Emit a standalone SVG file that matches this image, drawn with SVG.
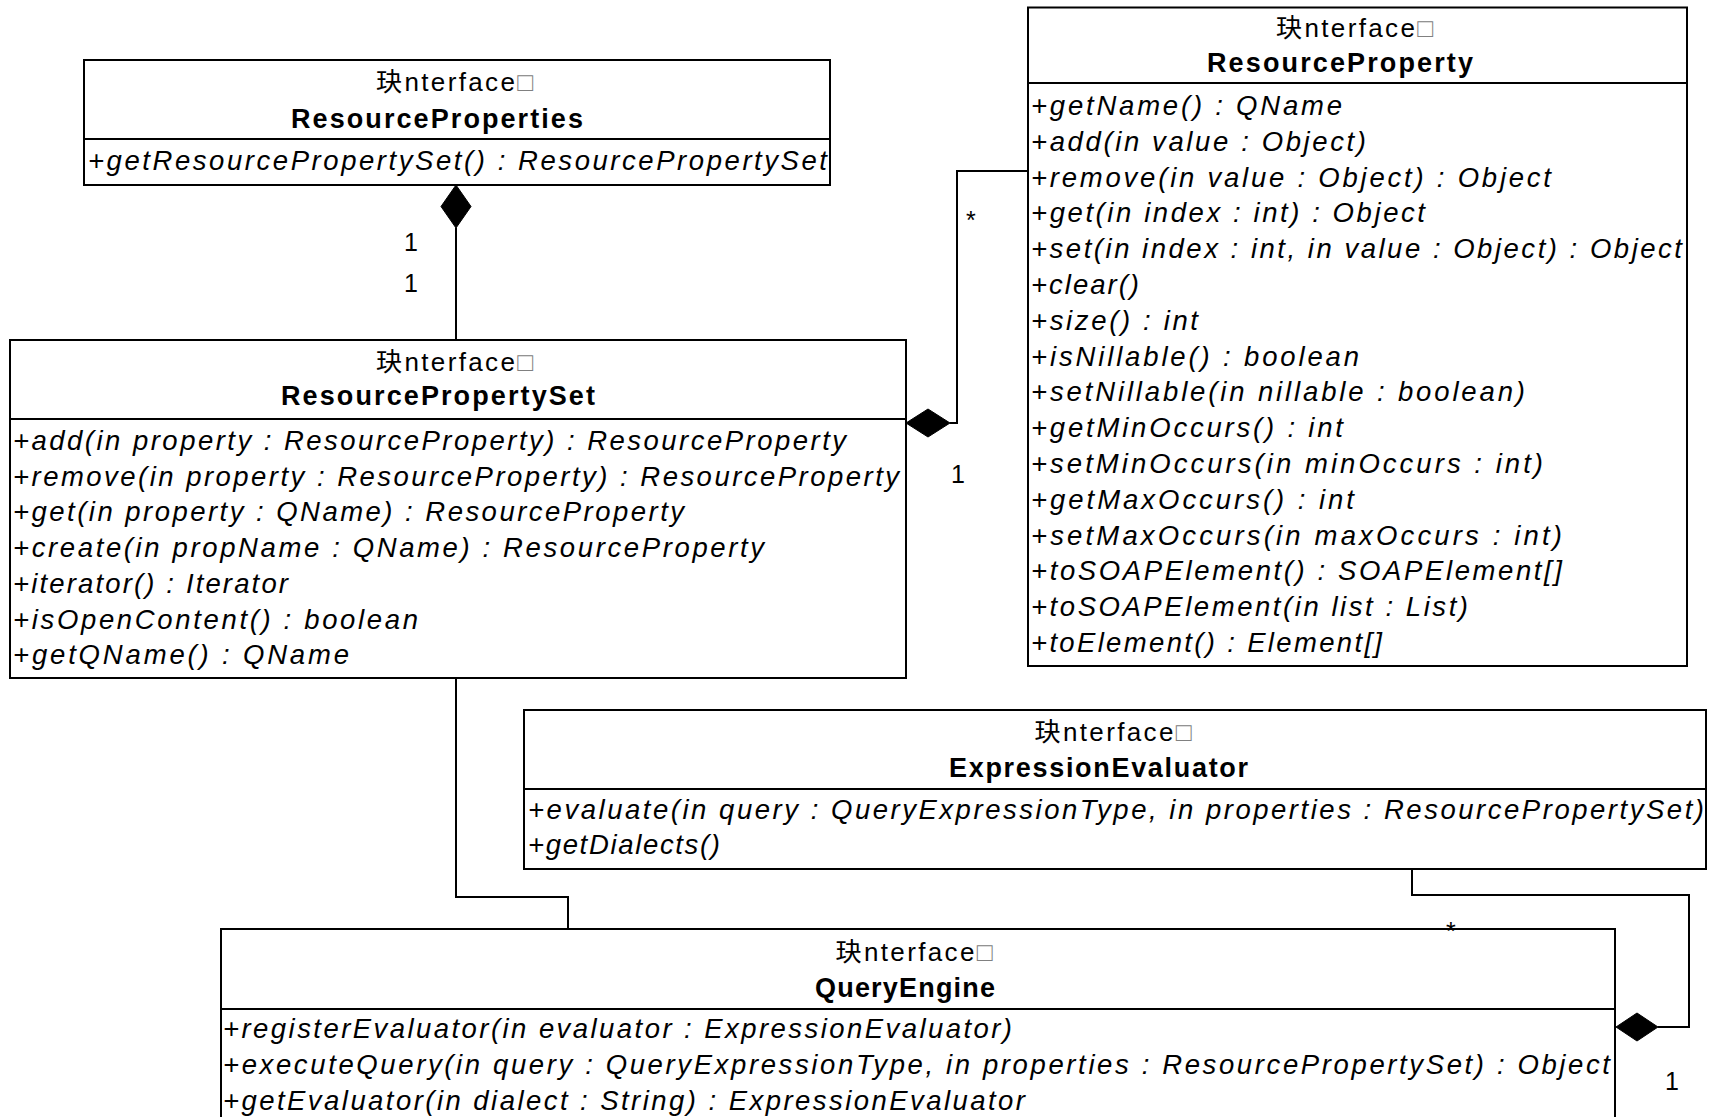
<svg xmlns="http://www.w3.org/2000/svg" width="1713" height="1117" viewBox="0 0 1713 1117">
<style>
.bg{fill:#fff}
.box{fill:#fff;stroke:#000;stroke-width:2}
.sep{stroke:#000;stroke-width:2}
.st{font-family:"Liberation Sans","Noto Sans CJK SC",sans-serif;font-size:26px;fill:#000}
.tofu{fill:#808080}
.nm{font-family:"Liberation Sans",sans-serif;font-size:27px;font-weight:bold;fill:#000}
.op{font-family:"Liberation Sans",sans-serif;font-size:27.5px;font-style:italic;fill:#000}
.ml{font-family:"Liberation Sans",sans-serif;font-size:25px;fill:#000}
.conn{fill:none;stroke:#000;stroke-width:2}
.dia{fill:#000;stroke:#000;stroke-width:1}
</style>
<rect class="bg" x="0" y="0" width="1713" height="1117"/>

<g id="connectors">
  <polyline class="conn" points="456,228 456,340"/>
  <polygon class="dia" points="456,185 471,206.5 456,228 441,206.5"/>
  <text class="ml" x="404" y="251">1</text>
  <text class="ml" x="404" y="292">1</text>

  <polyline class="conn" points="950,423 957,423 957,171 1028,171"/>
  <polygon class="dia" points="906,423 928,409 950,423 928,437"/>
  <text class="ml" x="966" y="229">*</text>
  <text class="ml" x="951" y="483">1</text>

  <polyline class="conn" points="456,678 456,897 568,897 568,929"/>

  <polyline class="conn" points="1412,869 1412,895 1689,895 1689,1027 1658,1027"/>
  <polygon class="dia" points="1616,1027 1637,1013 1658,1027 1637,1041"/>
  <text class="ml" x="1665" y="1090">1</text>
</g>

<g id="ResourceProperties">
  <rect class="box" x="84" y="60" width="746" height="125"/>
  <line class="sep" x1="84" y1="139" x2="830" y2="139"/>
  <text class="st" x="376" y="91" textLength="157" lengthAdjust="spacing">玦nterface<tspan class="tofu">□</tspan></text>
  <text class="nm" x="291" y="128" textLength="292" lengthAdjust="spacing">ResourceProperties</text>
  <text class="op" x="88" y="170" textLength="739" lengthAdjust="spacing">+getResourcePropertySet() : ResourcePropertySet</text>
</g>

<g id="ResourcePropertySet">
  <rect class="box" x="10" y="340" width="896" height="338"/>
  <line class="sep" x1="10" y1="419" x2="906" y2="419"/>
  <text class="st" x="376" y="371" textLength="157" lengthAdjust="spacing">玦nterface<tspan class="tofu">□</tspan></text>
  <text class="nm" x="281" y="405" textLength="314" lengthAdjust="spacing">ResourcePropertySet</text>
  <text class="op" x="13" y="450" textLength="833" lengthAdjust="spacing">+add(in property : ResourceProperty) : ResourceProperty</text>
  <text class="op" x="13" y="485.7" textLength="886" lengthAdjust="spacing">+remove(in property : ResourceProperty) : ResourceProperty</text>
  <text class="op" x="13" y="521.4" textLength="671" lengthAdjust="spacing">+get(in property : QName) : ResourceProperty</text>
  <text class="op" x="13" y="557.1" textLength="751" lengthAdjust="spacing">+create(in propName : QName) : ResourceProperty</text>
  <text class="op" x="13" y="592.8" textLength="275" lengthAdjust="spacing">+iterator() : Iterator</text>
  <text class="op" x="13" y="628.5" textLength="405" lengthAdjust="spacing">+isOpenContent() : boolean</text>
  <text class="op" x="13" y="664.2" textLength="336" lengthAdjust="spacing">+getQName() : QName</text>
</g>

<g id="ResourceProperty">
  <rect class="box" x="1028" y="7.5" width="659" height="658.5"/>
  <line class="sep" x1="1028" y1="83" x2="1687" y2="83"/>
  <text class="st" x="1276" y="36.5" textLength="157" lengthAdjust="spacing">玦nterface<tspan class="tofu">□</tspan></text>
  <text class="nm" x="1207" y="72" textLength="266" lengthAdjust="spacing">ResourceProperty</text>
  <text class="op" x="1031" y="115" textLength="311" lengthAdjust="spacing">+getName() : QName</text>
  <text class="op" x="1031" y="150.8" textLength="335" lengthAdjust="spacing">+add(in value : Object)</text>
  <text class="op" x="1031" y="186.6" textLength="520" lengthAdjust="spacing">+remove(in value : Object) : Object</text>
  <text class="op" x="1031" y="222.4" textLength="394" lengthAdjust="spacing">+get(in index : int) : Object</text>
  <text class="op" x="1031" y="258.2" textLength="651" lengthAdjust="spacing">+set(in index : int, in value : Object) : Object</text>
  <text class="op" x="1031" y="294" textLength="108" lengthAdjust="spacing">+clear()</text>
  <text class="op" x="1031" y="329.8" textLength="167" lengthAdjust="spacing">+size() : int</text>
  <text class="op" x="1031" y="365.6" textLength="328" lengthAdjust="spacing">+isNillable() : boolean</text>
  <text class="op" x="1031" y="401.4" textLength="494" lengthAdjust="spacing">+setNillable(in nillable : boolean)</text>
  <text class="op" x="1031" y="437.2" textLength="312" lengthAdjust="spacing">+getMinOccurs() : int</text>
  <text class="op" x="1031" y="473" textLength="512" lengthAdjust="spacing">+setMinOccurs(in minOccurs : int)</text>
  <text class="op" x="1031" y="508.8" textLength="323" lengthAdjust="spacing">+getMaxOccurs() : int</text>
  <text class="op" x="1031" y="544.6" textLength="531" lengthAdjust="spacing">+setMaxOccurs(in maxOccurs : int)</text>
  <text class="op" x="1031" y="580.4" textLength="531" lengthAdjust="spacing">+toSOAPElement() : SOAPElement[]</text>
  <text class="op" x="1031" y="616.2" textLength="437" lengthAdjust="spacing">+toSOAPElement(in list : List)</text>
  <text class="op" x="1031" y="652" textLength="351" lengthAdjust="spacing">+toElement() : Element[]</text>
</g>

<g id="ExpressionEvaluator">
  <rect class="box" x="524" y="710" width="1182" height="159"/>
  <line class="sep" x1="524" y1="789" x2="1706" y2="789"/>
  <text class="st" x="1034.5" y="740.5" textLength="157" lengthAdjust="spacing">玦nterface<tspan class="tofu">□</tspan></text>
  <text class="nm" x="949" y="776.5" textLength="299" lengthAdjust="spacing">ExpressionEvaluator</text>
  <text class="op" x="528" y="819" textLength="1176" lengthAdjust="spacing">+evaluate(in query : QueryExpressionType, in properties : ResourcePropertySet)</text>
  <text class="op" x="528" y="854" textLength="192" lengthAdjust="spacing">+getDialects()</text>
</g>

<g id="QueryEngine">
  <rect class="box" x="221" y="929" width="1394" height="220"/>
  <line class="sep" x1="221" y1="1009" x2="1615" y2="1009"/>
  <text class="st" x="835.5" y="960.5" textLength="157" lengthAdjust="spacing">玦nterface<tspan class="tofu">□</tspan></text>
  <text class="nm" x="815" y="997" textLength="180" lengthAdjust="spacing">QueryEngine</text>
  <text class="op" x="223" y="1037.5" textLength="789" lengthAdjust="spacing">+registerEvaluator(in evaluator : ExpressionEvaluator)</text>
  <text class="op" x="223" y="1073.5" textLength="1387" lengthAdjust="spacing">+executeQuery(in query : QueryExpressionType, in properties : ResourcePropertySet) : Object</text>
  <text class="op" x="223" y="1109.5" textLength="802" lengthAdjust="spacing">+getEvaluator(in dialect : String) : ExpressionEvaluator</text>
</g>

<g id="labels">
  <text class="ml" x="1446" y="940">*</text>
</g>
</svg>
